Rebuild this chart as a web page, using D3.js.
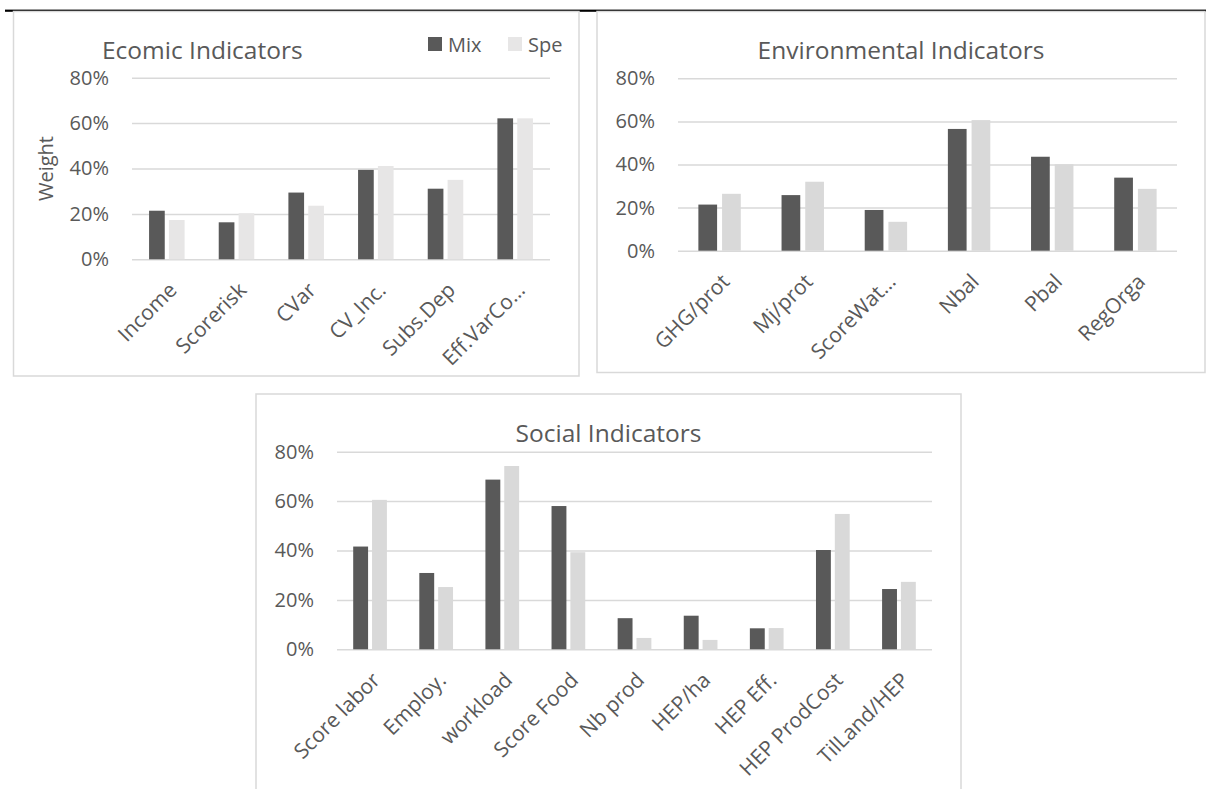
<!DOCTYPE html>
<html>
<head>
<meta charset="utf-8">
<script src="https://cdn.jsdelivr.net/npm/d3@7"></script>
<style>
  html, body { margin: 0; padding: 0; background: #fff; }
  svg { display: block; font-family: "Open Sans", sans-serif; }
</style>
</head>
<body>
<svg id="canvas"></svg>
<script>
// Dati (pesi in frazione)
const series = ["Mix", "Spe"];
const yTicks = [0, 0.2, 0.4, 0.6, 0.8];

const econCats = ["Income", "Scorerisk", "CVar", "CV_Inc.", "Subs.Dep", "Eff.VarCo…"];
const econMix  = [0.214, 0.163, 0.294, 0.394, 0.311, 0.621];
const econSpe  = [0.173, 0.203, 0.236, 0.411, 0.350, 0.621];

const envCats = ["GHG/prot", "Mj/prot", "ScoreWat…", "Nbal", "Pbal", "RegOrga"];
const envMix  = [0.214, 0.258, 0.189, 0.565, 0.436, 0.339];
const envSpe  = [0.264, 0.320, 0.134, 0.606, 0.401, 0.287];

const socCats = ["Score labor", "Employ.", "workload", "Score Food", "Nb prod",
                 "HEP/ha", "HEP Eff.", "HEP ProdCost", "TilLand/HEP"];
const socMix  = [0.416, 0.309, 0.687, 0.580, 0.126, 0.136, 0.085, 0.402, 0.244];
const socSpe  = [0.605, 0.252, 0.742, 0.393, 0.046, 0.038, 0.086, 0.548, 0.273];

const width = 1206, height = 789;
const textColor = "#595959";
const gridColor = "#D9D9D9";

const svg = d3.select("#canvas")
  .attr("width", width)
  .attr("height", height);

// Linea nera in alto (bordo tabella)
svg.append("rect")
  .attr("x", 5).attr("y", 9.6)
  .attr("width", width - 5).attr("height", 2.2)
  .attr("fill", "#000");

// Un pannello = cornice + titolo + barre raggruppate
function drawPanel(cfg) {
  const g = svg.append("g");

  g.append("rect")
    .attr("x", cfg.box[0]).attr("y", cfg.box[1])
    .attr("width", cfg.box[2] - cfg.box[0])
    .attr("height", cfg.box[3] - cfg.box[1])
    .attr("fill", "#fff")
    .attr("stroke", gridColor)
    .attr("stroke-width", 1.5);

  const rows = cfg.cats.map((c, i) => ({ cat: c, Mix: cfg.mix[i], Spe: cfg.spe[i] }));

  const x0 = d3.scaleBand()
    .domain(cfg.cats)
    .range([cfg.plot.left, cfg.plot.right])
    .padding(0);

  const x1 = d3.scaleBand()
    .domain(series)
    .range([0, x0.step()])
    .paddingInner(0.21)
    .paddingOuter(0.86);

  const y = d3.scaleLinear()
    .domain([0, 0.8])
    .range([cfg.plot.bottom, cfg.plot.top]);

  const color = d3.scaleOrdinal()
    .domain(series)
    .range(["#595959", cfg.speColor]);

  // Asse Y con griglia
  const yAxis = g.append("g")
    .attr("transform", `translate(${cfg.plot.left},0)`)
    .call(d3.axisLeft(y)
      .tickValues(yTicks)
      .tickFormat(d3.format(".0%"))
      .tickSize(-(cfg.plot.right - cfg.plot.left))
      .tickPadding(23));
  yAxis.select(".domain").remove();
  yAxis.selectAll(".tick line")
    .attr("stroke", gridColor)
    .attr("stroke-width", 1.5);
  yAxis.selectAll(".tick text")
    .attr("fill", textColor)
    .attr("font-size", "20px")
    .attr("font-family", "Open Sans");

  // Barre
  g.selectAll("g.group")
    .data(rows)
    .enter()
    .append("g")
      .attr("class", "group")
      .attr("transform", d => `translate(${x0(d.cat)},0)`)
    .selectAll("rect")
    .data(d => series.map(s => ({ key: s, value: d[s] })))
    .enter()
    .append("rect")
      .attr("x", d => x1(d.key))
      .attr("width", x1.bandwidth())
      .attr("y", d => y(d.value))
      .attr("height", d => y(0) - y(d.value))
      .attr("fill", d => color(d.key));

  // Etichette categorie ruotate
  g.selectAll("text.cat")
    .data(cfg.cats)
    .enter()
    .append("text")
      .attr("class", "cat")
      .attr("transform", d => `translate(${x0(d) + x0.step() / 2 + 6},${cfg.plot.bottom + 27}) rotate(-45)`)
      .attr("text-anchor", "end")
      .attr("dy", "0.35em")
      .attr("font-size", "21px")
      .attr("fill", textColor)
      .text(d => d);

  // Titolo
  g.append("text")
    .attr("x", cfg.title.x)
    .attr("y", cfg.title.y)
    .attr("text-anchor", cfg.title.anchor)
    .attr("font-size", "24.5px")
    .attr("fill", textColor)
    .text(cfg.title.text);

  return { g, color };
}

const econ = drawPanel({
  box: [13.5, 11.5, 579, 376],
  plot: { left: 132, right: 550, top: 77.7, bottom: 259.3 },
  cats: econCats, mix: econMix, spe: econSpe,
  speColor: "#E7E6E6",
  title: { text: "Ecomic Indicators", x: 102, y: 59, anchor: "start" }
});

drawPanel({
  box: [597, 11.5, 1205, 372.5],
  plot: { left: 678, right: 1177, top: 78.3, bottom: 250.7 },
  cats: envCats, mix: envMix, spe: envSpe,
  speColor: "#D9D9D9",
  title: { text: "Environmental Indicators", x: 901, y: 59, anchor: "middle" }
});

drawPanel({
  box: [256, 394, 961, 800],
  plot: { left: 337, right: 932, top: 451.7, bottom: 649.3 },
  cats: socCats, mix: socMix, spe: socSpe,
  speColor: "#D9D9D9",
  title: { text: "Social Indicators", x: 608.5, y: 442, anchor: "middle" }
});

// Titolo asse Y del primo pannello
econ.g.append("text")
  .attr("transform", "translate(53,168.5) rotate(-90)")
  .attr("text-anchor", "middle")
  .attr("font-size", "20px")
  .attr("fill", textColor)
  .text("Weight");

// Legenda
const legend = econ.g.selectAll("g.legend")
  .data(series)
  .enter()
  .append("g")
    .attr("class", "legend")
    .attr("transform", (d, i) => `translate(${428 + i * 80},37)`);

legend.append("rect")
  .attr("width", 14).attr("height", 14)
  .attr("fill", d => econ.color(d));

legend.append("text")
  .attr("x", 20).attr("y", 14.5)
  .attr("font-size", "20px")
  .attr("fill", textColor)
  .text(d => d);
</script>
</body>
</html>
